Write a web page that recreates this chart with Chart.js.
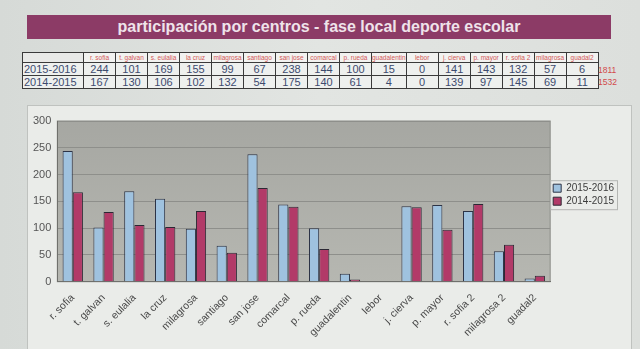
<!DOCTYPE html>
<html>
<head>
<meta charset="utf-8">
<script src="https://cdn.jsdelivr.net/npm/chart.js@4"></script>
<style>
  html, body { margin: 0; padding: 0; }
  body {
    width: 640px; height: 349px; overflow: hidden; position: relative;
    background: linear-gradient(90deg, #d6dad7 0%, #e2e5e2 50%, #dcdfdc 100%);
    font-family: "Liberation Sans", Arial, sans-serif;
  }
  #titulo {
    position: absolute; left: 27px; top: 15px; width: 584px; height: 24px;
    background: #8c3b66; color: #efe3ea;
    font-weight: bold; font-size: 16px; line-height: 24px; text-align: center;
  }
  #tabla {
    position: absolute; left: 22px; top: 52px;
    border-collapse: collapse; table-layout: fixed;
  }
  #tabla td { border: 1px solid #3a3a3a; padding: 0; text-align: center; overflow: hidden; white-space: nowrap; }
  #tabla tr.cab td { height: 9px; font-size: 6.5px; color: #d25a5a; background: #f2f2f0; }
  #tabla tr.fila td { height: 11px; font-size: 11px; color: #3d4b6e; background: #eef0ee; }
  #tabla td.etq { text-align: left; color: #3a3a3a; background: linear-gradient(90deg, #c4c6c4, #9c9e9c); font-size: 11px; padding-left: 1px; }
  #tabla tr.cab td.etq { background: #e8e9e7; }
  .total { position: absolute; left: 598px; font-size: 8.5px; color: #d24a4a; }
  #marco {
    position: absolute; left: 27px; top: 105px; width: 603px; height: 250px;
    background: #eaece9; border: 1px solid #bfc2bf;
  }
  #grafico { position: absolute; left: 27px; top: 105px; }
</style>
</head>
<body>
<div id="titulo">participación por centros - fase local deporte escolar</div>
<table id="tabla"></table>
<div class="total" style="top:65px">1811</div>
<div class="total" style="top:77px">1532</div>
<div id="marco"></div>
<canvas id="grafico" width="605" height="244"></canvas>

<script>
// Datos
const centros = ['r. sofia', 't. galvan', 's. eulalia', 'la cruz', 'milagrosa', 'santiago', 'san jose', 'comarcal',
                 'p. rueda', 'guadalentin', 'lebor', 'j. cierva', 'p. mayor', 'r. sofia 2', 'milagrosa 2', 'guadal2'];
const cabecerasTabla = ['r. sofia', 't. galvan', 's. eulalia', 'la cruz', 'milagrosa', 'santiago', 'san jose', 'comarcal',
                        'p. rueda', 'guadalentin', 'lebor', 'j. cierva', 'p. mayor', 'r. sofia 2', 'milagrosa', 'guadal2'];
const temporadas = ['2015-2016', '2014-2015'];
const valores1516 = [244, 101, 169, 155, 99, 67, 238, 144, 100, 15, 0, 141, 143, 132, 57, 6];
const valores1415 = [167, 130, 106, 102, 132, 54, 175, 140, 61, 4, 0, 139, 97, 145, 69, 11];
const ticksY = [0, 50, 100, 150, 200, 250, 300];

// Tabla
const tabla = document.getElementById('tabla');
let html = '<colgroup><col style="width:61px">' + centros.map(() => '<col style="width:32px">').join('') + '</colgroup>';
html += '<tr class="cab"><td class="etq"></td>' + cabecerasTabla.map(c => `<td>${c}</td>`).join('') + '</tr>';
html += `<tr class="fila"><td class="etq">${temporadas[0]}</td>` + valores1516.map(v => `<td>${v}</td>`).join('') + '</tr>';
html += `<tr class="fila"><td class="etq">${temporadas[1]}</td>` + valores1415.map(v => `<td>${v}</td>`).join('') + '</tr>';
tabla.innerHTML = html;

// Fondo gris del área de trazado
const fondoArea = {
    id: 'fondoArea',
    beforeDraw(chart) {
        const { ctx, chartArea: a } = chart;
        const g = ctx.createLinearGradient(0, a.top, 0, a.bottom);
        g.addColorStop(0, '#a6a7a2');
        g.addColorStop(1, '#b6b7b1');
        ctx.save();
        ctx.fillStyle = g;
        ctx.fillRect(a.left, a.top, a.right - a.left, a.bottom - a.top);
        ctx.strokeStyle = '#8a8b87';
        ctx.strokeRect(a.left, a.top, a.right - a.left, a.bottom - a.top);
        ctx.restore();
    },
    afterDraw(chart) {
        // recuadro de la leyenda
        const cajas = chart.legend.legendHitBoxes;
        if (!cajas || !cajas.length) return;
        const ctx = chart.ctx;
        const x0 = Math.min(...cajas.map(b => b.left)) - 3;
        const y0 = Math.min(...cajas.map(b => b.top)) - 3;
        const x1 = Math.max(...cajas.map(b => b.left + b.width)) + 3;
        const y1 = Math.max(...cajas.map(b => b.top + b.height)) + 3;
        ctx.save();
        ctx.strokeStyle = '#b4b6b3';
        ctx.strokeRect(x0 + 0.5, y0 + 0.5, x1 - x0, y1 - y0);
        ctx.restore();
    }
};

new Chart(document.getElementById('grafico'), {
    type: 'bar',
    data: {
        labels: centros,
        datasets: [
            { label: temporadas[0], data: valores1516, backgroundColor: '#9fc2df', borderColor: '#2c3346', borderWidth: 1 },
            { label: temporadas[1], data: valores1415, backgroundColor: '#b23a68', borderColor: '#2c2834', borderWidth: 1 }
        ]
    },
    options: {
        responsive: false,
        animation: false,
        layout: { padding: { left: 0, right: 8, top: 16, bottom: 8 } },
        datasets: { bar: { categoryPercentage: 0.66, barPercentage: 1.0 } },
        plugins: {
            legend: {
                position: 'right',
                align: 'start',
                title: { display: true, text: ' ', font: { size: 1 }, padding: { top: 58, bottom: 0 } },
                labels: {
                    boxWidth: 8, boxHeight: 8, padding: 3,
                    color: '#3c3c3c',
                    font: { family: 'Liberation Sans', size: 10 }
                }
            },
            tooltip: { enabled: false }
        },
        scales: {
            x: {
                grid: { display: false, drawTicks: true },
                border: { color: '#6f706c' },
                ticks: {
                    minRotation: 45, maxRotation: 45, padding: 2,
                    color: '#4a4a4a',
                    font: { family: 'Liberation Sans', size: 10.5 }
                }
            },
            y: {
                min: 0, max: 300,
                afterBuildTicks(axis) { axis.ticks = ticksY.map(v => ({ value: v })); },
                grid: { color: '#8e8f8b', drawTicks: false },
                border: { color: '#6f706c' },
                ticks: {
                    padding: 6,
                    color: '#555',
                    font: { family: 'Liberation Sans', size: 11 }
                }
            }
        }
    },
    plugins: [fondoArea]
});
</script>
</body>
</html>
